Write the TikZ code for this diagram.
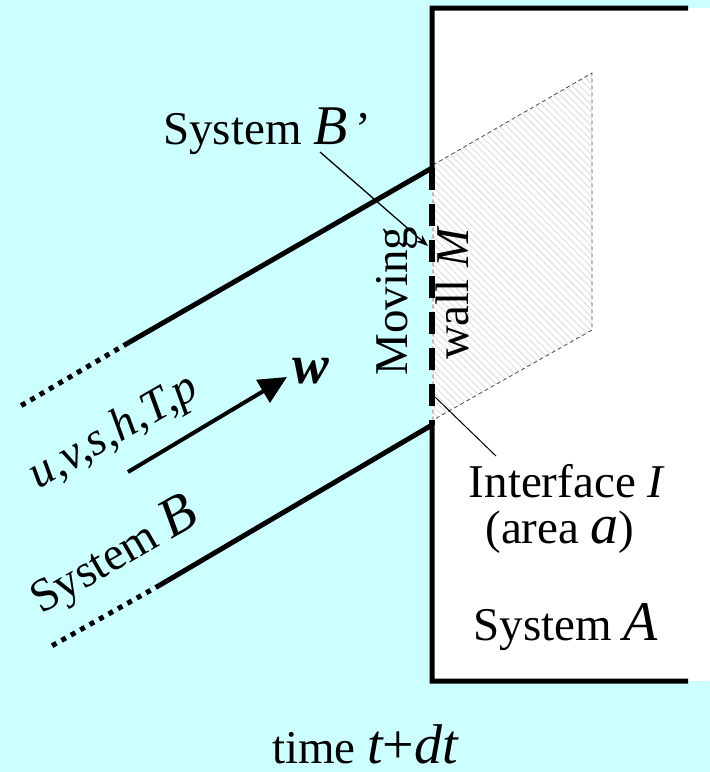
\documentclass[tikz,border=0pt]{standalone}
\usepackage{fontspec}
\setmainfont{Liberation Serif}
\usetikzlibrary{patterns.meta,arrows.meta}
\definecolor{bgcyan}{HTML}{CCFFFF}
\newcommand{\fs}{\fontsize{47}{54}\selectfont}
\newcommand{\bigital}[1]{{\fontsize{56}{60}\selectfont\itshape #1}}
\tikzset{
  wallline/.style={line width=5pt, line join=miter},
  dotline/.style={line width=5pt, dash pattern=on 5pt off 5.8pt},
  movwall/.style={line width=6.5pt, dash pattern=on 22pt off 14pt},
  txt/.style={inner sep=0pt, font=\fs},
  pointer/.style={line width=1.3pt},
}
\begin{document}
\begin{tikzpicture}[x=1pt,y=-1pt]
\fill[bgcyan] (0,0) rectangle (710,772);
\useasboundingbox (0,0) rectangle (710,772);
\fill[white] (432,8) rectangle (710,681);
% hatched region
\fill[pattern={Lines[angle=-45,distance=5pt,line width=1pt]}, pattern color=gray!25]
  (433,165) -- (592,73) -- (592,330) -- (433,420) -- cycle;
\draw[gray!60!black, line width=0.8pt, dash pattern=on 4pt off 3pt]
  (433,165) -- (592,73) -- (592,330) -- (433,420) -- cycle;
% coordinates
\coordinate (TR) at (688,8);
\coordinate (TW) at (432,8);
\coordinate (C1) at (432,168);
\coordinate (S1) at (128,343);
\coordinate (D1) at (17,408);
\coordinate (C2) at (432,425);
\coordinate (S2) at (160,585);
\coordinate (D2) at (48,648);
\coordinate (BW) at (432,681);
\coordinate (BR) at (688,681);
% walls
\draw[wallline] (TR) -- (TW) -- (C1) -- (S1);
\draw[dotline] (S1) -- (D1);
\draw[wallline] (BR) -- (BW) -- (C2) -- (S2);
\draw[dotline] (S2) -- (D2);
\draw[movwall] (C1) -- (C2);
% flow arrow
\coordinate (w1) at (128,472);
\coordinate (w2) at (287,377);
\draw[line width=4pt, -{Triangle[length=28pt,width=26pt]}] (w1) -- (w2);
\node[txt, anchor=base west] (wlab) at (292,383) {\fontsize{55}{60}\selectfont\bfseries\itshape w};
% labels
\node[txt, anchor=base west] (sysBp) at (163,144) {System \bigital{B}\,’};
\coordinate (bp1) at (320,152);
\coordinate (bp2) at (428,246);
\draw[pointer, -{Stealth[length=12pt,width=9pt]}] (bp1) -- (bp2);
\node[txt, rotate=90, anchor=base] (moving) at (407,301) {Moving};
\node[txt, rotate=90, anchor=base] (wallM) at (468,293) {wall \textit{M}};
\node[txt, rotate=30, anchor=base] (props) at (120,443) {\itshape u,v,s,h,T,p};
\node[txt, rotate=30, anchor=base] (sysB) at (121,568) {System \bigital{B}};
\coordinate (ip1) at (435,397);
\coordinate (ip2) at (496,456);
\draw[line width=1pt] (ip1) -- (ip2);
\node[txt, anchor=base] (iface) at (567,497) {Interface \textit{I}};
\node[txt, anchor=base] (area) at (560,543) {(area \bigital{a})};
\node[txt, anchor=base] (sysA) at (566,640) {System \bigital{A}};
\node[txt, anchor=base] (time) at (365,763) {time \bigital{t}{\fontsize{56}{60}\selectfont+}\bigital{dt}};
\end{tikzpicture}
\end{document}
